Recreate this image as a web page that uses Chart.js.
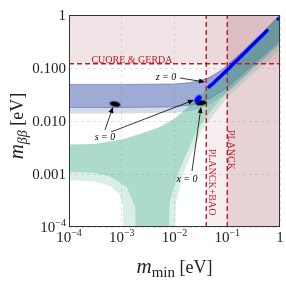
<!DOCTYPE html>
<html>
<head>
<meta charset="utf-8">
<script src="https://cdn.jsdelivr.net/npm/chart.js@4.4.0/dist/chart.umd.min.js"></script>
<style>
  html, body { margin: 0; padding: 0; background: #fff; }
  #wrap { width: 286px; height: 286px; }
</style>
</head>
<body>
<div id="wrap"><canvas id="chart" width="286" height="286"></canvas></div>
<script>
// axis ticks
const xTicks = [1e-4, 1e-3, 1e-2, 1e-1, 1];
const xTickLabels = [['10', '−4'], ['10', '−3'], ['10', '−2'], ['10', '−1'], ['1', '']];
const yTicks = [1e-4, 1e-3, 1e-2, 1e-1, 1];
const yTickLabels = [['10', '−4'], ['0.001', ''], ['0.010', ''], ['0.100', ''], ['1', '']];

// experimental limits
const cuoreLimit = 0.12;
const planckBaoLimit = 0.04;
const planckLimit = 0.1;

// inverted ordering band
const ioX      = [1e-4, 1e-3, 1e-2, 0.02, 0.03, 0.045, 0.07, 0.1, 0.2, 0.5, 1];
const ioUpper  = [0.049, 0.049, 0.050, 0.053, 0.058, 0.066, 0.085, 0.112, 0.21, 0.5, 1];
const ioLower  = [0.018, 0.018, 0.0185, 0.020, 0.022, 0.026, 0.034, 0.043, 0.08, 0.18, 0.34];
const ioLower3 = [0.0138, 0.0138, 0.0142, 0.0155, 0.017, 0.020, 0.027, 0.035, 0.065, 0.15, 0.28];

// normal ordering band
const noUpperX = [1e-4, 3e-4, 1e-3, 2e-3, 5e-3, 1e-2, 2e-2, 5e-2, 0.1, 0.3, 1];
const noUpper  = [0.0036, 0.0037, 0.0045, 0.0055, 0.0075, 0.011, 0.020, 0.050, 0.10, 0.30, 1];
const noLowerX = [1e-4, 3e-4, 6e-4, 1.25e-3, 1.8e-3, 1.9e-3, 6.6e-3, 8.2e-3, 1.16e-2, 2.67e-2, 5e-2, 0.1, 0.3, 1];
const noLower  = [0.0011, 0.00105, 0.0009, 0.00056, 0.00023, 1e-6, 1e-6, 0.0003, 0.001, 0.0068, 0.016, 0.035, 0.10, 0.30];
const noLower3X = [1e-4, 3e-4, 6e-4, 9e-4, 1.05e-3, 1.15e-3, 8.9e-3, 1.07e-2, 1.45e-2, 3.3e-2, 0.1, 0.3, 1];
const noLower3  = [0.00077, 0.00072, 0.0006, 0.00042, 0.00025, 1e-6, 1e-6, 0.0003, 0.001, 0.0068, 0.028, 0.075, 0.22];

// model points
const stripX = [0.045, 0.05, 0.055, 0.06, 0.068, 0.075, 0.085, 0.095, 0.11, 0.12, 0.135, 0.15, 0.17, 0.19, 0.21, 0.24, 0.27, 0.30, 0.34, 0.38, 0.42, 0.47, 0.52, 0.57];
const stripY = [0.044, 0.048, 0.052, 0.057, 0.064, 0.070, 0.079, 0.088, 0.10, 0.11, 0.124, 0.137, 0.155, 0.173, 0.19, 0.216, 0.243, 0.27, 0.305, 0.34, 0.375, 0.42, 0.465, 0.51];
const loneX = [0.92];
const loneY = [0.84];
const blueBlob = { x: 0.0279, y: 0.026 };
const sBlob = { x: 7.45e-4, y: 0.0209 };
const xBlob = { x: 0.0318, y: 0.0219 };

// annotations: label positions and arrows [from, to]
const notes = [
  { text: 's = 0', x: 4.81e-4, y: 0.00499 },
  { text: 'z = 0', x: 0.0069, y: 0.0676 },
  { text: 'x = 0', x: 0.01726, y: 0.000805 }
];
const arrows = [
  [[4.81e-4, 0.00677], [6.82e-4, 0.01837]],
  [[6.25e-4, 0.0062], [0.02344, 0.0249]],
  [[0.0127, 0.0648], [0.0379, 0.0544]],
  [[0.0215, 0.00114], [0.0318, 0.01837]]
];

const pts = (xs, ys) => xs.map((v, i) => ({ x: v, y: ys[i] }));

function blob(w, h, rot, color) {
  const c = document.createElement('canvas');
  const s = Math.ceil(Math.max(w, h)) + 2;
  c.width = s; c.height = s;
  const g = c.getContext('2d');
  g.fillStyle = color;
  g.beginPath();
  g.ellipse(s / 2, s / 2, w / 2, h / 2, rot, 0, 2 * Math.PI);
  g.fill();
  return c;
}

const serif = '"Liberation Serif", "DejaVu Serif", serif';
const red = 'rgb(185,30,40)';

const hidden = { borderWidth: 0, pointRadius: 0, pointHoverRadius: 0 };

function drawSup(ctx, base, sup, x, y, size, align) {
  ctx.font = size + 'px ' + serif;
  const wb = ctx.measureText(base).width;
  ctx.font = Math.round(size * 0.68) + 'px ' + serif;
  const ws = sup ? ctx.measureText(sup).width : 0;
  const w = wb + ws;
  let x0 = align === 'right' ? x - w : x - w / 2;
  ctx.textAlign = 'left';
  ctx.textBaseline = 'alphabetic';
  ctx.font = size + 'px ' + serif;
  ctx.fillText(base, x0, y);
  if (sup) {
    ctx.font = Math.round(size * 0.68) + 'px ' + serif;
    ctx.fillText(sup, x0 + wb, y - size * 0.42);
  }
}

function drawTitle(ctx, parts) {
  // parts: [text, font, dy]
  let w = 0;
  parts.forEach(p => { ctx.font = p[1]; w += ctx.measureText(p[0]).width; });
  let x = -w / 2;
  parts.forEach(p => {
    ctx.font = p[1];
    ctx.fillText(p[0], x, p[2]);
    x += ctx.measureText(p[0]).width;
  });
}

const overlay = {
  id: 'overlay',
  afterDatasetsDraw(chart) {
    const { ctx, chartArea: a, scales: { x, y } } = chart;
    ctx.save();
    ctx.beginPath();
    ctx.rect(a.left, a.top, a.right - a.left, a.bottom - a.top);
    ctx.clip();

    // limit labels
    ctx.fillStyle = red;
    ctx.font = '10px ' + serif;
    ctx.textAlign = 'center';
    ctx.textBaseline = 'alphabetic';
    ctx.fillText('CUORE & GERDA', x.getPixelForValue(0.00156), y.getPixelForValue(cuoreLimit) - 1);
    ctx.textBaseline = 'middle';
    [['PLANCK', 0.118, 0.00284], ['PLANCK+BAO', 0.0514, 0.000706]].forEach(([t, vx, vy]) => {
      ctx.save();
      ctx.translate(x.getPixelForValue(vx), y.getPixelForValue(vy));
      ctx.rotate(Math.PI / 2);
      ctx.fillText(t, 0, 0);
      ctx.restore();
    });

    // arrows
    ctx.strokeStyle = '#000';
    ctx.fillStyle = '#000';
    ctx.lineWidth = 0.8;
    arrows.forEach(([p, q]) => {
      const x1 = x.getPixelForValue(p[0]), y1 = y.getPixelForValue(p[1]);
      const x2 = x.getPixelForValue(q[0]), y2 = y.getPixelForValue(q[1]);
      const ang = Math.atan2(y2 - y1, x2 - x1);
      ctx.beginPath();
      ctx.moveTo(x1, y1);
      ctx.lineTo(x2 - 4 * Math.cos(ang), y2 - 4 * Math.sin(ang));
      ctx.stroke();
      ctx.beginPath();
      ctx.moveTo(x2, y2);
      ctx.lineTo(x2 - 6 * Math.cos(ang) + 2.5 * Math.sin(ang), y2 - 6 * Math.sin(ang) - 2.5 * Math.cos(ang));
      ctx.lineTo(x2 - 6 * Math.cos(ang) - 2.5 * Math.sin(ang), y2 - 6 * Math.sin(ang) + 2.5 * Math.cos(ang));
      ctx.closePath();
      ctx.fill();
    });

    ctx.font = 'italic 10px ' + serif;
    ctx.textAlign = 'center';
    ctx.textBaseline = 'middle';
    notes.forEach(n => ctx.fillText(n.text, x.getPixelForValue(n.x), y.getPixelForValue(n.y)));
    ctx.restore();
  },
  afterDraw(chart) {
    const { ctx, chartArea: a, scales: { x, y } } = chart;
    ctx.save();
    ctx.strokeStyle = '#333';
    ctx.lineWidth = 1;
    ctx.strokeRect(a.left + 0.5, a.top + 0.5, a.right - a.left - 1, a.bottom - a.top - 1);

    ctx.fillStyle = '#222';
    xTicks.forEach((v, i) => drawSup(ctx, xTickLabels[i][0], xTickLabels[i][1], x.getPixelForValue(v), a.bottom + 15, 15, 'center'));
    yTicks.forEach((v, i) => drawSup(ctx, yTickLabels[i][0], yTickLabels[i][1], a.left - 3, y.getPixelForValue(v) + 5, 15, 'right'));

    ctx.textAlign = 'left';
    ctx.textBaseline = 'alphabetic';
    ctx.save();
    ctx.translate((a.left + a.right) / 2, 273);
    drawTitle(ctx, [['m', 'italic 21px ' + serif, 0], ['min', '15px ' + serif, 4], [' [eV]', '18px ' + serif, 0]]);
    ctx.restore();
    ctx.save();
    ctx.translate(23, (a.top + a.bottom) / 2 + 5);
    ctx.rotate(-Math.PI / 2);
    drawTitle(ctx, [['m', 'italic 21px ' + serif, 0], ['ββ', 'italic 14px ' + serif, 4], [' [eV]', '18px ' + serif, 0]]);
    ctx.restore();
    ctx.restore();
  }
};

const ctx = document.getElementById('chart').getContext('2d');
const chart = new Chart(ctx, {
  type: 'line',
  data: {
    datasets: [
      // 0-2 excluded regions
      { data: [{ x: 1e-4, y: cuoreLimit }, { x: 1, y: cuoreLimit }], fill: 'end', backgroundColor: 'rgba(185,120,128,0.2)', order: 30, ...hidden },
      { data: [{ x: planckBaoLimit, y: 1 }, { x: 1, y: 1 }], fill: 'start', backgroundColor: 'rgba(185,120,128,0.12)', order: 29, ...hidden },
      { data: [{ x: planckLimit, y: 1 }, { x: 1, y: 1 }], fill: 'start', backgroundColor: 'rgba(170,95,105,0.2)', order: 28, ...hidden },
      // 3-5 inverted ordering
      { data: pts(ioX, ioLower), fill: false, borderColor: 'rgba(60,80,160,0.6)', borderWidth: 0.8, pointRadius: 0, order: 20 },
      { data: pts(ioX, ioUpper), fill: 3, backgroundColor: 'rgba(60,90,170,0.5)', borderColor: 'rgba(60,80,160,0.6)', borderWidth: 0.8, pointRadius: 0, order: 21 },
      { data: pts(ioX, ioLower3), fill: 3, backgroundColor: 'rgba(60,90,170,0.22)', order: 22, ...hidden },
      // 6-8 normal ordering
      { data: pts(noLowerX, noLower), fill: false, order: 15, ...hidden },
      { data: pts(noUpperX, noUpper), fill: 6, backgroundColor: 'rgba(60,170,130,0.42)', order: 16, ...hidden },
      { data: pts(noLower3X, noLower3), fill: 6, backgroundColor: 'rgba(60,170,130,0.2)', order: 17, ...hidden },
      // 9-11 limit lines
      { data: [{ x: 1e-4, y: cuoreLimit }, { x: 1, y: cuoreLimit }], fill: false, borderColor: red, borderWidth: 1.4, borderDash: [5, 3], pointRadius: 0, order: 5 },
      { data: [{ x: planckBaoLimit, y: 1e-4 }, { x: planckBaoLimit, y: 1 }], fill: false, borderColor: red, borderWidth: 1.4, borderDash: [5, 3], pointRadius: 0, order: 5 },
      { data: [{ x: planckLimit, y: 1e-4 }, { x: planckLimit, y: 1 }], fill: false, borderColor: red, borderWidth: 1.4, borderDash: [5, 3], pointRadius: 0, order: 5 },
      // 12-16 model points
      { data: pts(stripX, stripY), fill: false, borderColor: '#0000ff', borderWidth: 3.5, borderCapStyle: 'round', pointRadius: 0, order: 2 },
      { data: pts(loneX, loneY), showLine: false, pointRadius: 1.8, pointBackgroundColor: '#0000ff', pointBorderWidth: 0, order: 2 },
      { data: [blueBlob], showLine: false, pointStyle: blob(6, 9, 0.6, '#0000ff'), order: 1 },
      { data: [sBlob], showLine: false, pointStyle: blob(11, 5, 0.2, '#000'), order: 1 },
      { data: [xBlob], showLine: false, pointStyle: blob(11, 5, -0.1, '#000'), order: 1 }
    ]
  },
  options: {
    responsive: false,
    animation: false,
    events: [],
    layout: { padding: { top: 15, right: 6, left: 0, bottom: 0 } },
    elements: { line: { tension: 0 } },
    plugins: { legend: { display: false }, tooltip: { enabled: false }, filler: { propagate: false } },
    scales: {
      x: {
        type: 'logarithmic', min: 1e-4, max: 1,
        afterBuildTicks: s => { s.ticks = xTicks.map(v => ({ value: v })); },
        afterFit: s => { s.height = 59; },
        ticks: { display: false },
        grid: { color: '#dadada', lineWidth: 0.8, drawTicks: false },
        border: { display: false, dash: [3, 3] }
      },
      y: {
        type: 'logarithmic', min: 1e-4, max: 1,
        afterBuildTicks: s => { s.ticks = yTicks.map(v => ({ value: v })); },
        afterFit: s => { s.width = 69; },
        ticks: { display: false },
        grid: { color: '#dadada', lineWidth: 0.8, drawTicks: false },
        border: { display: false, dash: [3, 3] }
      }
    }
  },
  plugins: [overlay]
});
</script>
</body>
</html>
